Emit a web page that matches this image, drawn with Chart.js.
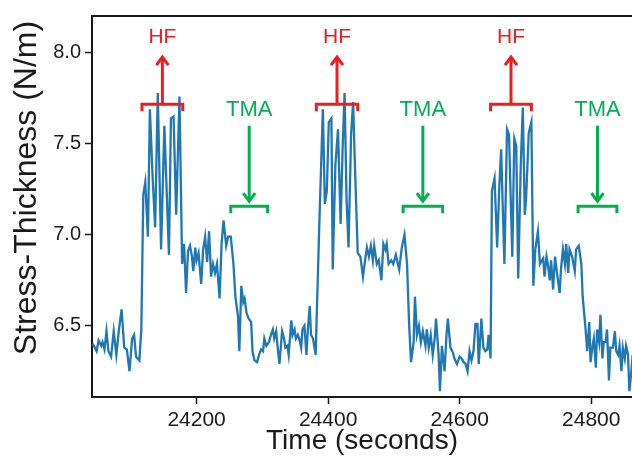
<!DOCTYPE html>
<html>
<head>
<meta charset="utf-8">
<script src="https://cdn.jsdelivr.net/npm/chart.js@4.4.1/dist/chart.umd.min.js"></script>
<style>
  html, body { margin: 0; padding: 0; background: #fff; }
  #wrap { width: 632px; height: 461px; position: relative; }
</style>
</head>
<body>
<div id="wrap"><canvas id="stressChart"></canvas></div>
<script>
// Datos (tiempo en s, espesor-tensión en N/m)
const times = [
  24042,24044,24048,24051,24055,24057,24060,24063,24066,24070,24074,24078,24082,24086,24090,24094,24098,24102,24105,24108,24113,24116,
  24119,24122,24126,24129,24133,24137,24141,24146,24151,24158,24161,24165,24169,24174,24178,
  24181,24184,24187,24190,24193,24195,24198,24200,24203,24207,24210,24213,24216,24219,24222,24225,24228,24231,24235,24238,24241,24245,24248,24252,
  24256,24259,24263,24265,24268,24271,24273,24276,24279,24283,24285,24288,24292,24295,24298,24301,24303,24306,24310,24313,
  24316,24318,24321,24323,24326,24330,24333,24335,24338,24340,24344,24346,24349,24351,24354,24356,24359,24361,24364,24367,24369,24372,24374,24377,24381,
  24387,24392,24395,24398,24401,24405,24407,24411,24415,24419,24422,24425,24428,24431,24435,24438,24440,24445,24449,24453,
  24455,24459,24462,24465,24468,24470,24474,24477,24481,24484,24487,24489,24492,24496,24499,24503,24508,24512,24516,
  24520,24523,24526,24530,24532,24535,24538,24541,24544,24548,24550,24553,24556,24559,24562,24564,24568,24570,24573,24577,24580,24582,24586,
  24590,24592,24596,24600,24603,24606,24609,24612,24615,24618,24621,24624,24627,24629,24633,24636,24639,24642,24644,24647,
  24649,24653,24657,24660,24663,24668,24672,24675,24680,24683,24686,24689,24693,24696,24699,24701,24705,24709,24712,24715,24719,24722,24727,
  24729,24732,24734,24737,24739,24742,24745,24748,24752,24754,24757,24760,24762,24765,24767,24771,24775,24777,24781,24785,
  24787,24791,24794,24797,24799,24802,24804,24807,24809,24812,24814,24817,24819,24822,24824,24827,24829,24833,24836,24838,24841,24843,24846,24848,24851,24853,24856,24858,24861,24863
];
const stress = [
  6.40,6.39,6.36,6.42,6.39,6.41,6.37,6.47,6.36,6.33,6.47,6.34,6.48,6.59,6.38,6.37,6.25,6.43,6.45,6.33,6.31,6.48,
  7.22,7.29,6.99,7.69,7.33,7.04,7.78,6.92,7.60,6.89,7.64,7.65,7.11,7.76,6.84,
  6.95,6.68,6.91,6.94,6.88,6.80,6.93,6.86,6.90,6.73,6.92,6.99,6.85,7.02,6.77,6.84,6.79,6.84,6.65,6.95,7.08,6.94,6.99,6.99,
  6.84,6.66,6.55,6.36,6.72,6.63,6.65,6.57,6.54,6.52,6.36,6.31,6.30,6.34,6.37,6.36,6.43,6.39,6.41,6.45,
  6.48,6.43,6.47,6.39,6.29,6.47,6.43,6.38,6.39,6.34,6.53,6.45,6.48,6.43,6.45,6.43,6.38,6.48,6.50,6.34,6.47,6.61,6.45,6.43,6.34,
  7.11,7.69,7.17,7.24,7.62,7.64,6.81,7.38,7.58,7.06,7.47,7.78,7.20,6.93,7.56,7.73,7.47,6.90,6.88,6.77,
  6.83,6.93,6.88,6.94,6.86,6.94,6.84,6.86,6.75,6.95,6.92,6.95,6.84,6.86,6.84,6.89,6.81,6.93,7.00,
  6.84,6.52,6.30,6.41,6.66,6.45,6.50,6.41,6.47,6.39,6.48,6.38,6.45,6.34,6.43,6.54,6.34,6.14,6.39,6.25,6.45,6.54,6.38,
  6.35,6.32,6.29,6.33,6.32,6.30,6.29,6.25,6.36,6.31,6.36,6.51,6.51,6.29,6.54,6.38,6.36,6.37,6.45,6.32,
  7.24,7.31,6.93,7.24,7.47,6.84,7.58,7.55,6.88,7.53,7.49,6.76,7.40,7.70,7.11,7.20,7.56,7.62,6.72,6.92,7.02,6.84,6.87,
  6.77,6.88,6.84,6.75,6.86,6.70,6.88,6.79,6.68,6.81,6.92,6.84,6.95,6.79,6.92,6.88,6.80,6.92,6.94,6.84,
  6.66,6.50,6.36,6.52,6.30,6.39,6.43,6.27,6.48,6.41,6.56,6.32,6.41,6.41,6.48,6.20,6.38,6.38,6.47,6.36,6.34,6.39,6.25,6.38,6.32,6.39,6.34,6.14,6.25,6.34
];
const xTicks = [24200, 24400, 24600, 24800];
const yTicks = [6.5, 7.0, 7.5, 8.0];

// Anotaciones (en unidades de datos); text = línea base del texto
const hfStart = [24117, 24382, 24647];
const hfEnd   = [24179, 24445, 24709];
const hfLevels = { bracket: 7.718, arrowTop: 7.977, text: 8.052 };
const tmaStart = [24252, 24514, 24780];
const tmaEnd   = [24308, 24574, 24839];
const tmaLevels = { text: 7.654, arrowTop: 7.60, arrowTip: 7.185, bracket: 7.157 };

const RED = '#ee1c1c', GREEN = '#00b050', INK = '#1a1a1a';
const FONT = '"Liberation Sans", Arial, sans-serif';

(function(){
  const canvas = document.getElementById('stressChart');
  if (!canvas || !window.Chart) return;

  function bracket(ctx, x1, x2, y, color){
    ctx.strokeStyle = color; ctx.lineWidth = 3; ctx.lineJoin = 'miter'; ctx.lineCap = 'butt';
    ctx.beginPath();
    ctx.moveTo(x1, y + 7); ctx.lineTo(x1, y); ctx.lineTo(x2, y); ctx.lineTo(x2, y + 7);
    ctx.stroke();
  }
  function arrow(ctx, x, yFrom, yTo, color){
    const dir = yTo < yFrom ? -1 : 1;
    ctx.strokeStyle = color; ctx.lineWidth = 3; ctx.lineCap = 'butt';
    ctx.beginPath(); ctx.moveTo(x, yFrom); ctx.lineTo(x, yTo - dir); ctx.stroke();
    ctx.beginPath();
    ctx.moveTo(x - 6, yTo - dir * 8); ctx.lineTo(x, yTo); ctx.lineTo(x + 6, yTo - dir * 8);
    ctx.stroke();
  }

  const decor = {
    id: 'decor',
    afterDatasetsDraw(chart){
      const { ctx, chartArea: a, scales: { x, y } } = chart;
      ctx.save();
      // marco superior
      ctx.strokeStyle = INK; ctx.lineWidth = 2;
      ctx.beginPath(); ctx.moveTo(a.left - 1, a.top); ctx.lineTo(a.right, a.top); ctx.stroke();

      ctx.textAlign = 'center'; ctx.textBaseline = 'alphabetic';
      hfStart.forEach((s, i) => {
        const x1 = x.getPixelForValue(s), x2 = x.getPixelForValue(hfEnd[i]), xc = (x1 + x2) / 2;
        bracket(ctx, x1, x2, y.getPixelForValue(hfLevels.bracket), RED);
        arrow(ctx, xc, y.getPixelForValue(hfLevels.bracket), y.getPixelForValue(hfLevels.arrowTop), RED);
        ctx.fillStyle = RED; ctx.font = '21px ' + FONT;
        ctx.fillText('HF', xc, y.getPixelForValue(hfLevels.text));
      });
      tmaStart.forEach((s, i) => {
        const x1 = x.getPixelForValue(s), x2 = x.getPixelForValue(tmaEnd[i]), xc = (x1 + x2) / 2;
        bracket(ctx, x1, x2, y.getPixelForValue(tmaLevels.bracket), GREEN);
        arrow(ctx, xc, y.getPixelForValue(tmaLevels.arrowTop), y.getPixelForValue(tmaLevels.arrowTip), GREEN);
        ctx.fillStyle = GREEN; ctx.font = '22px ' + FONT;
        ctx.fillText('TMA', xc, y.getPixelForValue(tmaLevels.text));
      });

      // títulos de ejes
      ctx.textBaseline = 'middle';
      ctx.fillStyle = INK;
      ctx.font = '28px ' + FONT;
      ctx.fillText('Time (seconds)', (a.left + a.right) / 2, 441);
      ctx.save();
      ctx.translate(27, 188); ctx.rotate(-Math.PI / 2);
      ctx.font = '32px ' + FONT;
      ctx.fillText('Stress-Thickness (N/m)', 0, 0);
      ctx.restore();
      ctx.restore();
    }
  };

  new Chart(canvas, {
    type: 'line',
    data: { datasets: [{ data: times.map((t, i) => ({ x: t, y: stress[i] })), borderColor: '#1f77b4', borderWidth: 2.3, pointRadius: 0, tension: 0, fill: false }] },
    options: {
      responsive: true, maintainAspectRatio: false, animation: false,
      layout: { padding: { top: 8, right: 0, left: 0, bottom: 0 } },
      plugins: { legend: { display: false }, tooltip: { enabled: false } },
      scales: {
        x: {
          type: 'linear', min: 24041, max: 24862,
          afterBuildTicks: s => { s.ticks = xTicks.map(v => ({ value: v })); },
          afterFit: s => { s.height = 64; },
          grid: { drawOnChartArea: false, drawTicks: true, tickLength: 7, tickWidth: 1.5, tickColor: INK },
          border: { display: true, color: INK, width: 2 },
          ticks: { color: INK, padding: 4, maxRotation: 0, font: { family: FONT, size: 21 }, callback: v => String(v) }
        },
        y: {
          min: 6.1085, max: 8.203,
          afterBuildTicks: s => { s.ticks = yTicks.map(v => ({ value: v })); },
          afterFit: s => { s.width = 92; },
          grid: { drawOnChartArea: false, drawTicks: true, tickLength: 7, tickWidth: 1.5, tickColor: INK },
          border: { display: true, color: INK, width: 2 },
          ticks: { color: INK, padding: 4, font: { family: FONT, size: 20 }, callback: v => v.toFixed(1) }
        }
      }
    },
    plugins: [decor]
  });
})();
</script>
</body>
</html>
